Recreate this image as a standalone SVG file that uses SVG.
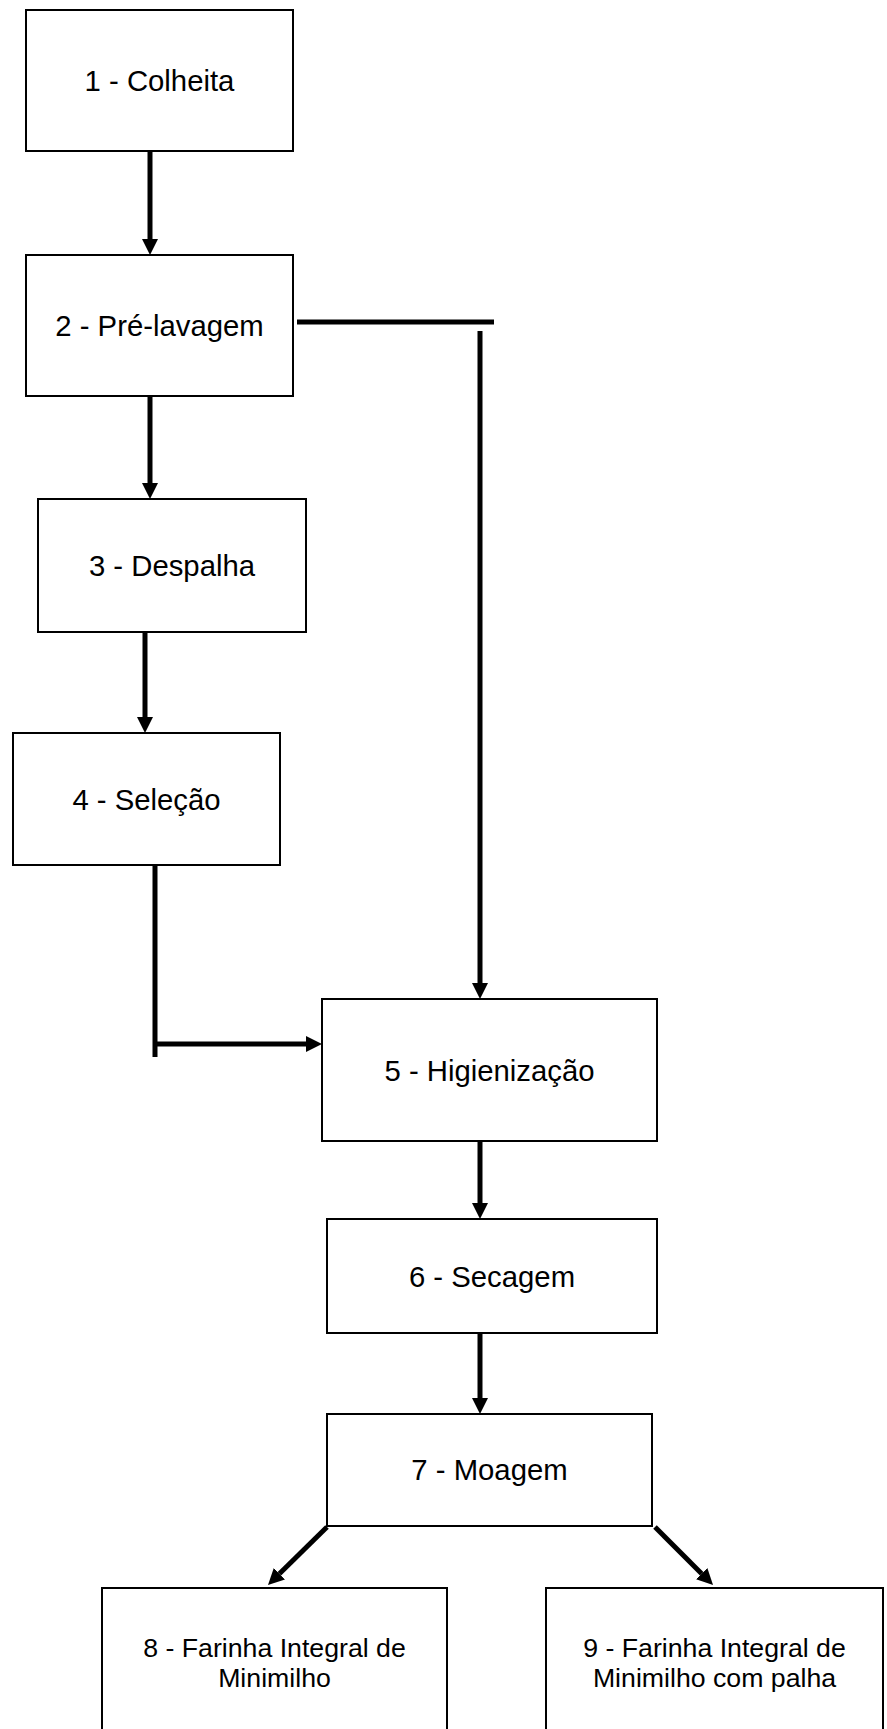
<svg xmlns="http://www.w3.org/2000/svg" width="887" height="1729" viewBox="0 0 887 1729">
<style>
.box{fill:#fff;stroke:#000;stroke-width:2}
.t{font-family:"Liberation Sans",Arial,sans-serif;font-size:29.3px;fill:#000;text-anchor:middle}
.ts{font-family:"Liberation Sans",Arial,sans-serif;font-size:26.7px;fill:#000;text-anchor:middle}
.c{fill:none;stroke:#000;stroke-width:5}
.ca{fill:none;stroke:#000;stroke-width:5;marker-end:url(#ah)}
</style>
<defs>
<marker id="ah" markerUnits="userSpaceOnUse" markerWidth="17" markerHeight="17" refX="0" refY="8" orient="auto" viewBox="0 0 17 17">
<path d="M0,0 L16,8 L0,16 z" fill="#000"/>
</marker>
</defs>
<rect width="887" height="1729" fill="#fff"/>
<g id="connectors">
<line class="ca" x1="150" y1="151" x2="150" y2="239"/>
<line class="ca" x1="150" y1="396" x2="150" y2="483"/>
<line class="ca" x1="145" y1="632" x2="145" y2="717"/>
<line class="c" x1="155" y1="865" x2="155" y2="1057"/>
<line class="ca" x1="155" y1="1044" x2="306" y2="1044"/>
<line class="c" x1="297" y1="322" x2="494" y2="322"/>
<line class="ca" x1="480" y1="331" x2="480" y2="983"/>
<line class="ca" x1="480" y1="1141" x2="480" y2="1203"/>
<line class="ca" x1="480" y1="1333" x2="480" y2="1398"/>
<line class="ca" x1="327" y1="1527" x2="279.4" y2="1573.8"/>
<line class="ca" x1="655" y1="1527" x2="701.7" y2="1573.7"/>
</g>
<g id="n1"><rect class="box" x="26" y="10" width="267" height="141"/><text class="t" x="159.5" y="91">1 - Colheita</text></g>
<g id="n2"><rect class="box" x="26" y="255" width="267" height="141"/><text class="t" x="159.5" y="335.5">2 - Pré-lavagem</text></g>
<g id="n3"><rect class="box" x="38" y="499" width="268" height="133"/><text class="t" x="172" y="576">3 - Despalha</text></g>
<g id="n4"><rect class="box" x="13" y="733" width="267" height="132"/><text class="t" x="146.5" y="809.5">4 - Seleção</text></g>
<g id="n5"><rect class="box" x="322" y="999" width="335" height="142"/><text class="t" x="489.5" y="1080.5">5 - Higienização</text></g>
<g id="n6"><rect class="box" x="327" y="1219" width="330" height="114"/><text class="t" x="492" y="1286.5">6 - Secagem</text></g>
<g id="n7"><rect class="box" x="327" y="1414" width="325" height="112"/><text class="t" x="489.5" y="1480">7 - Moagem</text></g>
<g id="n8"><rect class="box" x="102" y="1588" width="345" height="160"/><text class="ts" x="274.5" y="1657">8 - Farinha Integral de</text><text class="ts" x="274.5" y="1687">Minimilho</text></g>
<g id="n9"><rect class="box" x="546" y="1588" width="337" height="160"/><text class="ts" x="714.5" y="1657">9 - Farinha Integral de</text><text class="ts" x="714.5" y="1687">Minimilho com palha</text></g>
</svg>
